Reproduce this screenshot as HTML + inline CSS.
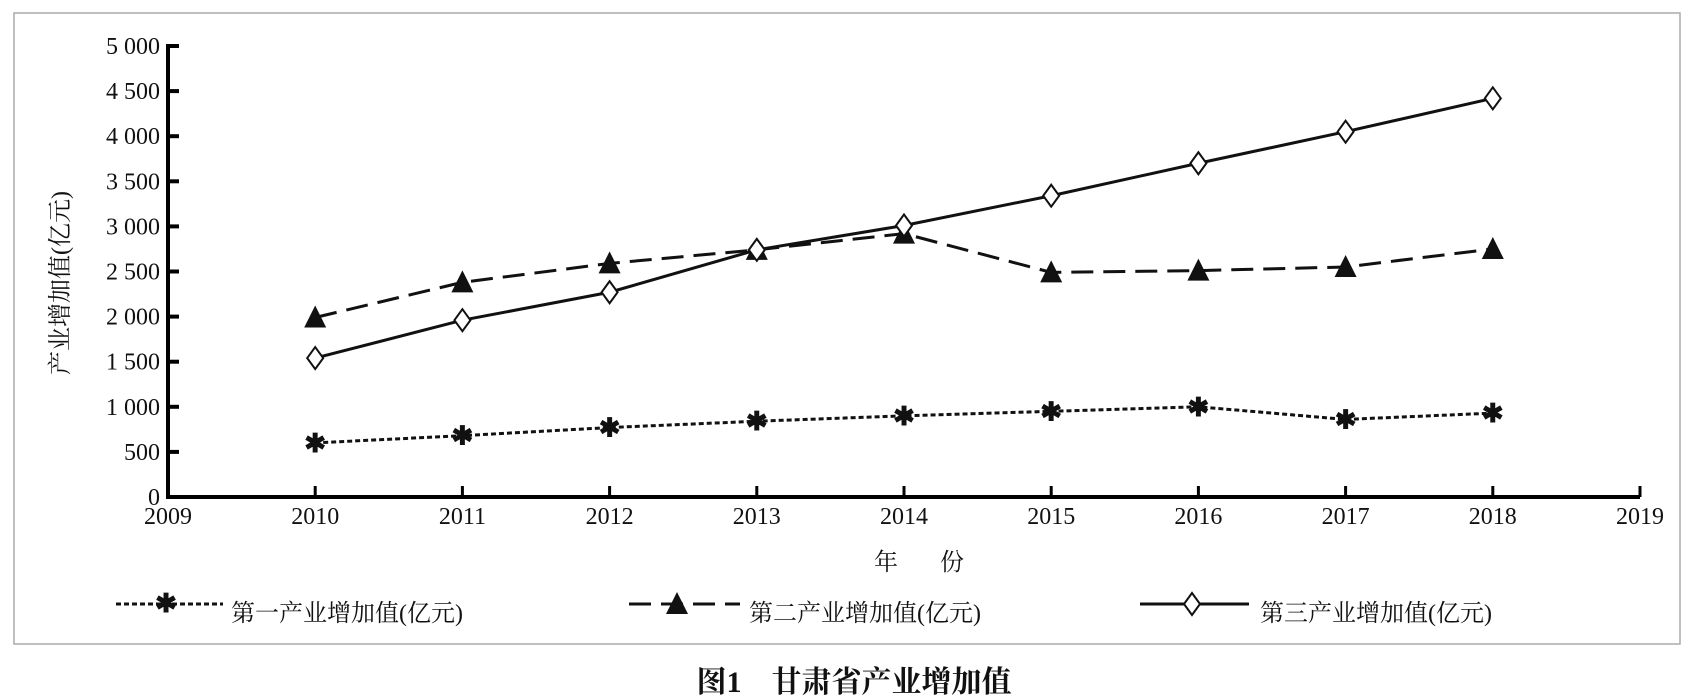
<!DOCTYPE html>
<html><head><meta charset="utf-8"><style>
html,body{margin:0;padding:0;background:#fff;}
svg{display:block;}
text{font-family:"Liberation Serif","Noto Serif CJK SC",serif;fill:#111;}
</style></head><body>
<svg id="chart" width="1698" height="699" viewBox="0 0 1698 699">
<rect x="14" y="13" width="1666" height="631" fill="none" stroke="#aaa" stroke-width="1.5"/>
<g id="axes"></g>
<g id="series"></g>
<text x="68" y="283" font-size="24" text-anchor="middle" transform="rotate(-90 68 283)">产业增加值(亿元)</text>
<text x="919" y="570" font-size="24" text-anchor="middle" xml:space="preserve">年       份</text>
<g>
 <g>
  <line x1="116" y1="604" x2="223" y2="604" stroke="#111" stroke-width="3" stroke-dasharray="5,3"/>
  <text x="166" y="612" font-size="26" text-anchor="middle" font-weight="bold">✱</text>
  <text x="231" y="621" font-size="24">第一产业增加值(亿元)</text>
 </g>
 <g>
  <line x1="629" y1="604" x2="740" y2="604" stroke="#111" stroke-width="3" stroke-dasharray="22,10"/>
  <polygon points="677,592 688,614 666,614" fill="#111"/>
  <text x="749" y="621" font-size="24">第二产业增加值(亿元)</text>
 </g>
 <g>
  <line x1="1140" y1="604" x2="1249" y2="604" stroke="#111" stroke-width="3"/>
  <polygon points="1192,593 1200,604 1192,615 1184,604" fill="#fff" stroke="#111" stroke-width="2"/>
  <text x="1260" y="621" font-size="24">第三产业增加值(亿元)</text>
 </g>
</g>
<text x="854" y="692" font-size="30" font-weight="bold" text-anchor="middle" font-family="'Liberation Sans','Noto Sans CJK SC',sans-serif">图1　甘肃省产业增加值</text>
</svg>
<script>
const years = [2010,2011,2012,2013,2014,2015,2016,2017,2018];
const primary = [600,680,770,840,900,950,1000,860,930];
const secondary = [1990,2380,2590,2740,2920,2490,2510,2550,2750];
const tertiary = [1540,1960,2270,2740,3010,3340,3700,4050,4420];
const yTicks = [0,500,1000,1500,2000,2500,3000,3500,4000,4500,5000];
const yTickLabels = ["0","500","1 000","1 500","2 000","2 500","3 000","3 500","4 000","4 500","5 000"];
const xTicks = [2009,2010,2011,2012,2013,2014,2015,2016,2017,2018,2019];

const NS="http://www.w3.org/2000/svg";
const X0=168,X1=1640,Y0=497,Y1=46;
const xs=v=>X0+(v-2009)/(2019-2009)*(X1-X0);
const ys=v=>Y0-(v/5000)*(Y0-Y1);
function mk(tag,attrs,parent){const e=document.createElementNS(NS,tag);for(const k in attrs)e.setAttribute(k,attrs[k]);parent.appendChild(e);return e;}
const axes=document.getElementById('axes');
const series=document.getElementById('series');
const ya=mk('line',{x1:X0,y1:Y1-2,x2:X0,y2:Y0+2,stroke:'#000','stroke-width':4},axes);


const xa=mk('line',{x1:X0-2,y1:Y0,x2:X1,y2:Y0,stroke:'#000','stroke-width':4},axes);


yTicks.forEach((v,i)=>{
  mk('line',{x1:X0,y1:ys(v),x2:X0+11,y2:ys(v),stroke:'#000','stroke-width':4},axes);
  const t=mk('text',{x:X0-8,y:ys(v)+8,'font-size':24,'text-anchor':'end'},axes);
  t.textContent=yTickLabels[i];
  
  
});
xTicks.forEach(v=>{
  if(v>2009) mk('line',{x1:xs(v),y1:Y0,x2:xs(v),y2:Y0-11,stroke:'#000','stroke-width':3},axes);
  const t=mk('text',{x:xs(v),y:Y0+27,'font-size':24,'text-anchor':'middle'},axes);
  t.textContent=v;
  
  
});
function line(vals,dash,name){
  const p=mk('polyline',{points:vals.map((v,i)=>xs(years[i])+','+ys(v)).join(' '),fill:'none',stroke:'#111','stroke-width':3,'stroke-dasharray':dash},series);
  
  
}
line(primary,'5,3','primary-industry-line');
line(secondary,'22,10','secondary-industry-line');
line(tertiary,'none','tertiary-industry-line');
primary.forEach((v,i)=>{
  const t=mk('text',{x:xs(years[i]),y:ys(v)+9,'font-size':26,'text-anchor':'middle','font-weight':'bold'},series);
  t.textContent='✱';
  
  
});
secondary.forEach((v,i)=>{
  const x=xs(years[i]),y=ys(v);
  const p=mk('polygon',{points:`${x},${y-12} ${x+11},${y+10} ${x-11},${y+10}`,fill:'#111'},series);
  
  
});
tertiary.forEach((v,i)=>{
  const x=xs(years[i]),y=ys(v);
  const p=mk('polygon',{points:`${x},${y-11} ${x+8},${y} ${x},${y+11} ${x-8},${y}`,fill:'#fff',stroke:'#111','stroke-width':2},series);
  
  
});
</script>
</body></html>
